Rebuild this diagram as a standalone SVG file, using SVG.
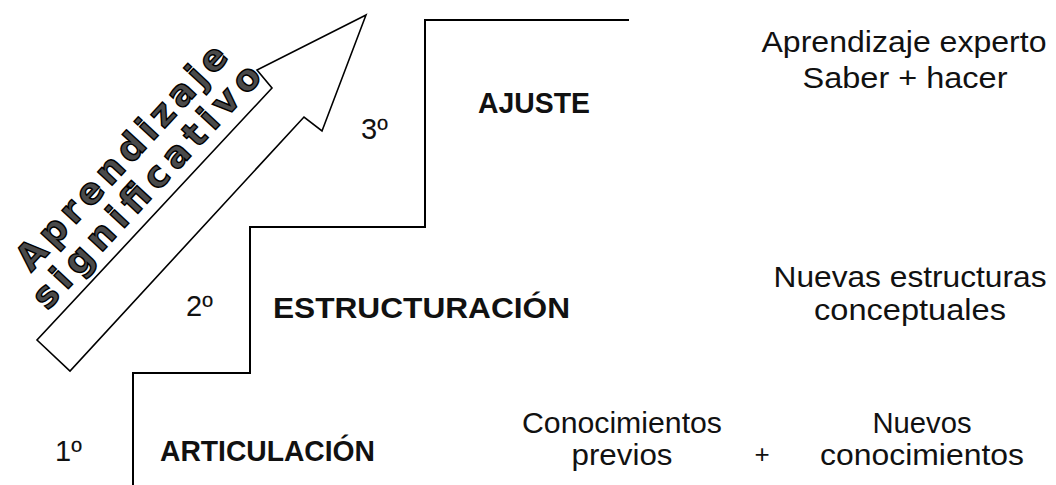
<svg xmlns="http://www.w3.org/2000/svg" width="1056" height="485" viewBox="0 0 1056 485">
  <style>
    .line { fill: none; stroke: #000; stroke-width: 2; }
    .reg { font-family: "Liberation Sans", Arial, sans-serif; font-size: 29px; fill: #111; }
    .bold { font-family: "Liberation Sans", Arial, sans-serif; font-size: 29px; font-weight: bold; fill: #111; }
    .mid { text-anchor: middle; }
    .arrowtxt { font-family: "DejaVu Sans", "Liberation Sans", sans-serif; font-size: 36px; font-weight: bold; fill: #4a4a4a; stroke: #000; stroke-width: 1.4; }
  </style>

  <g id="stairs">
    <path class="line" d="M629,20 H425 V227 H250 V373 H133 V485"/>
  </g>

  <g id="arrow">
    <polygon points="366,15 257,70 272,88 37,340 70,371 304,117 322,131" fill="#fff" stroke="#000" stroke-width="1.6" stroke-linejoin="miter"/>
    <g transform="translate(37,340) rotate(-47.2)">
      <text class="arrowtxt" x="45" y="-50" textLength="293" lengthAdjust="spacing">Aprendizaje</text>
      <text class="arrowtxt" x="28" y="-12" textLength="318" lengthAdjust="spacing">significativo</text>
    </g>
  </g>

  <g id="step3">
    <text class="reg" x="361" y="139">3º</text>
    <text class="bold" x="478" y="113" textLength="112" lengthAdjust="spacingAndGlyphs">AJUSTE</text>
    <text class="reg mid" x="904" y="52" textLength="285" lengthAdjust="spacingAndGlyphs">Aprendizaje experto</text>
    <text class="reg mid" x="905" y="88" textLength="205" lengthAdjust="spacingAndGlyphs">Saber + hacer</text>
  </g>

  <g id="step2">
    <text class="reg" x="186" y="316">2º</text>
    <text class="bold" x="273" y="318" textLength="297" lengthAdjust="spacingAndGlyphs">ESTRUCTURACIÓN</text>
    <text class="reg mid" x="910" y="287" textLength="273" lengthAdjust="spacingAndGlyphs">Nuevas estructuras</text>
    <text class="reg mid" x="910" y="320" textLength="192" lengthAdjust="spacingAndGlyphs">conceptuales</text>
  </g>

  <g id="step1">
    <text class="reg" x="55" y="461">1º</text>
    <text class="bold" x="160" y="461" textLength="215" lengthAdjust="spacingAndGlyphs">ARTICULACIÓN</text>
    <text class="reg mid" x="622" y="433" textLength="200" lengthAdjust="spacingAndGlyphs">Conocimientos</text>
    <text class="reg mid" x="622" y="465" textLength="101" lengthAdjust="spacingAndGlyphs">previos</text>
    <text class="reg mid" x="762" y="463" style="font-size:26px">+</text>
    <text class="reg mid" x="922" y="433" textLength="99" lengthAdjust="spacingAndGlyphs">Nuevos</text>
    <text class="reg mid" x="922" y="465" textLength="204" lengthAdjust="spacingAndGlyphs">conocimientos</text>
  </g>
</svg>
